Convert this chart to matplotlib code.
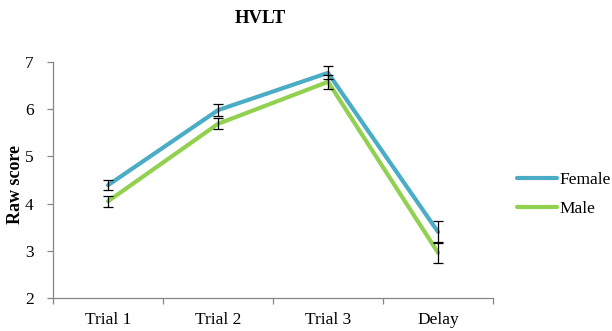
import matplotlib.pyplot as plt
import numpy as np

plt.rcParams['font.family'] = ['Liberation Serif', 'DejaVu Serif']

categories = ["Trial 1", "Trial 2", "Trial 3", "Delay"]
female = [4.39, 5.98, 6.77, 3.40]
female_err = [0.11, 0.13, 0.14, 0.23]
male = [4.05, 5.69, 6.58, 2.96]
male_err = [0.12, 0.12, 0.15, 0.22]

fig = plt.figure(figsize=(6.12, 3.31), dpi=100)
ax = fig.add_axes([0.0866, 0.0997, 0.719, 0.713])

x = np.arange(len(categories))
ax.plot(x, female, color="#4BACC6", lw=3.0, solid_capstyle="round", label="Female", zorder=2)
ax.plot(x, male, color="#92D050", lw=3.0, solid_capstyle="round", label="Male", zorder=2)
ax.errorbar(x, female, yerr=female_err, fmt="none", ecolor="black", elinewidth=0.9, capsize=3.5, capthick=0.9, zorder=3)
ax.errorbar(x, male, yerr=male_err, fmt="none", ecolor="black", elinewidth=0.9, capsize=3.5, capthick=0.9, zorder=3)

ax.set_xlim(-0.5, 3.5)
ax.set_ylim(2, 7)
ax.set_yticks([2, 3, 4, 5, 6, 7])
ax.set_xticks(x)
ax.set_xticklabels(categories)
ax.set_xticks(np.arange(-0.5, 4, 1), minor=True)
ax.tick_params(axis="x", which="major", length=0, pad=10, labelsize=12.5)
ax.tick_params(axis="x", which="minor", length=4, color="#868686", width=0.9, direction="out")
ax.tick_params(axis="y", length=4, color="#868686", width=0.9, direction="out", pad=10, labelsize=12.5)

for s in ["top", "right"]:
    ax.spines[s].set_visible(False)
for s in ["left", "bottom"]:
    ax.spines[s].set_color("#868686")
    ax.spines[s].set_linewidth(0.9)

fig.text(0.026, 0.444, "Raw score", rotation=90, ha="center", va="center", fontsize=13, fontweight="bold")
fig.text(0.425, 0.945, "HVLT", ha="center", va="center", fontsize=13.5, fontweight="bold")

ax.legend(loc="center left", bbox_to_anchor=(1.02, 0.44), frameon=False, fontsize=12.5,
          handlelength=2.3, handletextpad=0.1, labelspacing=0.75)

fig.savefig("out.png", dpi=100)
